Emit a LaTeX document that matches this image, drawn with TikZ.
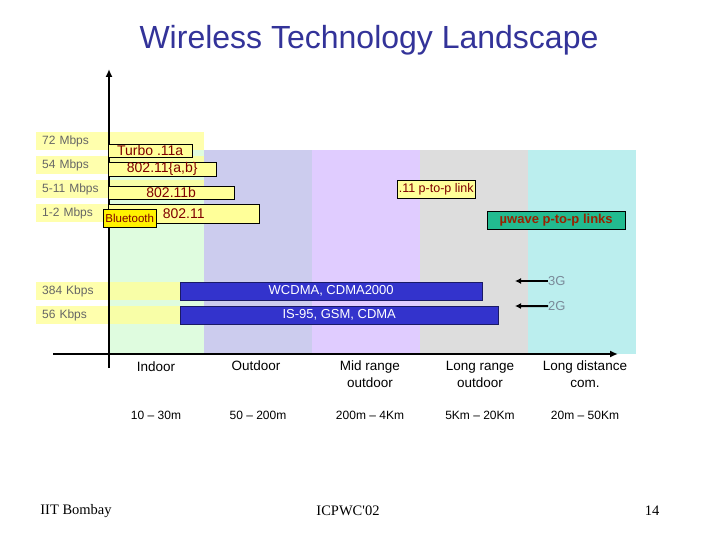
\documentclass[tikz,border=0pt]{standalone}
\usepackage{fontspec}
\setmainfont{Liberation Sans}
\newfontfamily\slidefont{Liberation Serif}
\usepackage{tikz}
\usetikzlibrary{arrows.meta,positioning}
\definecolor{wlTitle}{HTML}{333399}
\definecolor{wlGreen}{HTML}{DFFCDF}
\definecolor{wlLav}{HTML}{CCCCEE}
\definecolor{wlPurple}{HTML}{E0CCFF}
\definecolor{wlGray}{HTML}{DDDDDD}
\definecolor{wlCyan}{HTML}{BBEEEE}
\definecolor{wlBand}{HTML}{FFFF99}
\definecolor{wlRate}{HTML}{666666}
\definecolor{wlBox}{HTML}{FFFF99}
\definecolor{wlInk}{HTML}{800000}
\definecolor{wlBlue}{HTML}{3333CC}
\definecolor{wlBlueDraw}{HTML}{1A1A66}
\definecolor{wlWave}{HTML}{22BB90}
\definecolor{wlWaveInk}{HTML}{992200}
\definecolor{wlGen}{HTML}{7A8A99}
\tikzset{
  % Rate label band (left)
  rateband/.style={rectangle,anchor=north west,
    fill=wlBand,fill opacity=0.8,text opacity=1,
    minimum height=18pt,inner xsep=6pt,inner ysep=0pt,
    align=left,font=\fontsize{12}{14}\selectfont,text=wlRate},
  % Yellow technology box
  techbox/.style={rectangle,anchor=north west,
    draw=black,fill=wlBox,inner sep=0pt,
    font=\fontsize{14}{14}\selectfont,text=wlInk},
  % Cellular box (blue)
  cellbox/.style={rectangle,anchor=north west,
    draw=wlBlueDraw,fill=wlBlue,inner sep=0pt,
    minimum height=18pt,
    font=\fontsize{13}{13}\selectfont,text=white},
  % Microwave box (green)
  wavebox/.style={rectangle,anchor=north west,
    draw=black,fill=wlWave,inner sep=0pt,
    font=\fontsize{13}{13}\selectfont\bfseries,text=wlWaveInk},
  % Range labels under the axis
  rangelbl/.style={anchor=north,inner sep=0pt,align=center,
    font=\fontsize{13.5}{17}\selectfont},
  distlbl/.style={inner sep=0pt,font=\fontsize{12}{14}\selectfont},
  genlbl/.style={anchor=west,inner sep=0pt,
    font=\fontsize{13}{13}\selectfont,text=wlGen},
  footlbl/.style={inner sep=0pt,font=\slidefont\fontsize{14.5}{15}\selectfont},
  % Arrows
  axis/.style={-{Latex[length=8pt,width=7pt]},line width=2.2pt},
  genarr/.style={-{Latex[length=6pt,width=6pt]},line width=2pt},
}
\begin{document}
\begin{tikzpicture}[x=1pt,y=-1pt]
  \useasboundingbox (0,0) rectangle (720,540);
  \fill[white] (0,0) rectangle (720,540);

  \node[font=\fontsize{32}{34}\selectfont,text=wlTitle] (title) at (369,40)
    {Wireless Technology Landscape};

  % Range columns
  \fill[wlGreen] (109,150) rectangle (204,354);
  \fill[wlLav] (204,150) rectangle (312,354);
  \fill[wlPurple] (312,150) rectangle (420,354);
  \fill[wlGray] (420,150) rectangle (528,354);
  \fill[wlCyan] (528,150) rectangle (636,354);

  % Rate bands
  \node[rateband,text width=156pt] (r72) at (36,132) {72 Mbps};
  \node[rateband,text width=156pt] (r54) at (36,156) {54 Mbps};
  \node[rateband,text width=156pt] (r511) at (36,180) {5-11 Mbps};
  \node[rateband,text width=156pt] (r12) at (36,204) {1-2 Mbps};
  \node[rateband,text width=132pt] (r384) at (36,282) {384 Kbps};
  \node[rateband,text width=132pt] (r56) at (36,306) {56 Kbps};

  % Axes
  \coordinate (ybot) at (109,368);
  \coordinate (ytop) at (109,69);
  \coordinate (xleft) at (53,354);
  \coordinate (xright) at (618,354);
  \draw[axis] (ybot) -- (ytop);
  \draw[axis] (xleft) -- (xright);

  % WLAN boxes
  \node[techbox,minimum width=84pt,minimum height=13pt] (turbo) at (108,144) {Turbo .11a};
  \node[techbox,minimum width=108pt,minimum height=14pt] (ab) at (108,162) {802.11\{a,b\}};
  \node[techbox,minimum width=126pt,minimum height=13pt] (b) at (108,186) {802.11b};
  \node[techbox,minimum width=151pt,minimum height=19pt] (base) at (108,204) {802.11};
  \node[techbox,fill=yellow,minimum width=53pt,minimum height=18pt,
    font=\fontsize{11.5}{12}\selectfont] (bt) at (103,209) {Bluetooth};
  \node[techbox,minimum width=78pt,minimum height=18pt,
    font=\fontsize{12.5}{13}\selectfont] (ptp) at (397,180) {.11 p-to-p link};
  \node[wavebox,minimum width=138pt,minimum height=18pt] (uwave) at (487,211)
    {µwave p-to-p links};

  % Cellular boxes
  \node[cellbox,minimum width=302pt] (g3box) at (180,282) {WCDMA, CDMA2000};
  \node[cellbox,minimum width=318pt] (g2box) at (180,306) {IS-95, GSM, CDMA};

  \node[genlbl] (g3) at (548,281) {3G};
  \node[genlbl,below=15.5pt of g3.south west,anchor=north west] (g2) {2G};
  \coordinate (g3tip) at (515,281);
  \coordinate (g2tip) at (515,306);
  \draw[genarr] (g3.west) -- (g3tip);
  \draw[genarr] (g2.west) -- (g2tip);

  % Ranges
  \node[rangelbl] (indoor) at (156,362) {Indoor};
  \node[rangelbl] (outdoor) at (256,361) {Outdoor};
  \node[rangelbl] (mid) at (370,361) {Mid range\\outdoor};
  \node[rangelbl] (long) at (480,361) {Long range\\outdoor};
  \node[rangelbl] (dist) at (585,361) {Long distance\\com.};
  \node[distlbl] (dIndoor) at (156,415) {10 -- 30m};
  \node[distlbl] (dOutdoor) at (258,415) {50 -- 200m};
  \node[distlbl] (dMid) at (370,415) {200m -- 4Km};
  \node[distlbl] (dLong) at (480,415) {5Km -- 20Km};
  \node[distlbl] (dDist) at (585,415) {20m -- 50Km};

  % Footer
  \node[footlbl] (inst) at (76,511) {IIT Bombay};
  \node[footlbl] (conf) at (348,511) {ICPWC'02};
  \node[footlbl] (page) at (652,511) {14};
\end{tikzpicture}
\end{document}
